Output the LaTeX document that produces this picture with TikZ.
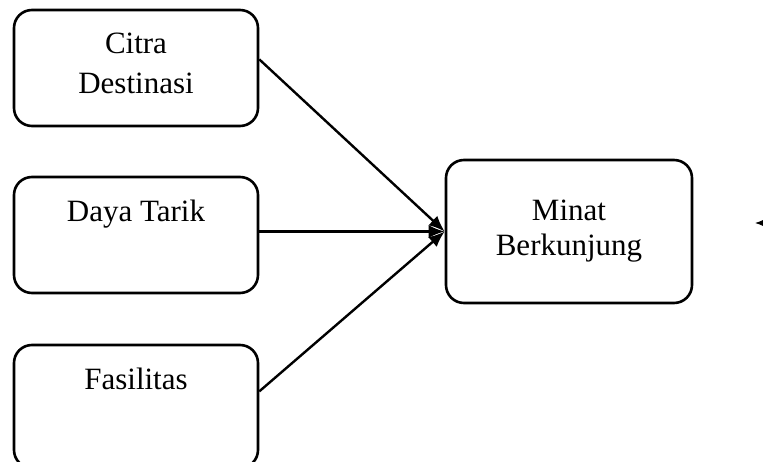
\documentclass[tikz,border=0pt]{standalone}
\usepackage{fontspec}
\setmainfont{Liberation Serif}
\usetikzlibrary{arrows.meta}
\begin{document}
\begin{tikzpicture}[x=1pt,y={(0pt,-1pt)},
  box/.style={draw, line width=2.6pt, rounded corners=18pt, inner sep=0pt,
    minimum width=244pt, minimum height=116pt},
  lbl/.style={inner sep=0pt, align=center, font=\fontsize{31}{40}\selectfont},
  link/.style={line width=2.4pt, -{Latex[length=16pt,width=13pt]}}]
\useasboundingbox (0,0) rectangle (763,462);
\clip (0,0) rectangle (763,462);
% left column
\node[box] (citra) at (136,68) {};
\node[box] (daya) at (136,235) {};
\node[box, minimum height=123pt] (fasil) at (136,406.5) {};
\node[lbl, anchor=north] (citraText) at ([yshift=-24pt]citra.north) {Citra\\Destinasi};
\node[lbl, anchor=north] (dayaText) at ([yshift=-24pt]daya.north) {Daya Tarik};
\node[lbl, anchor=north] (fasilText) at ([yshift=-24pt]fasil.north) {Fasilitas};
% right box
\node[box, minimum width=246pt, minimum height=143pt,
  font=\fontsize{31}{35}\selectfont, align=center] (minat) at (569,231.5) {Minat\\Berkunjung};
% arrows
\draw[link] (citra.4) -- (minat.west);
\draw[link] (daya.east |- minat.west) -- (minat.west);
\draw[link] (fasil.7) -- (minat.west);
% stray head at the right border
\coordinate (offright) at (775,223);
\coordinate (stray) at (755,223);
\draw[line width=1pt, -{Latex[length=10pt,width=8pt]}] (offright) -- (stray);
\end{tikzpicture}
\end{document}
